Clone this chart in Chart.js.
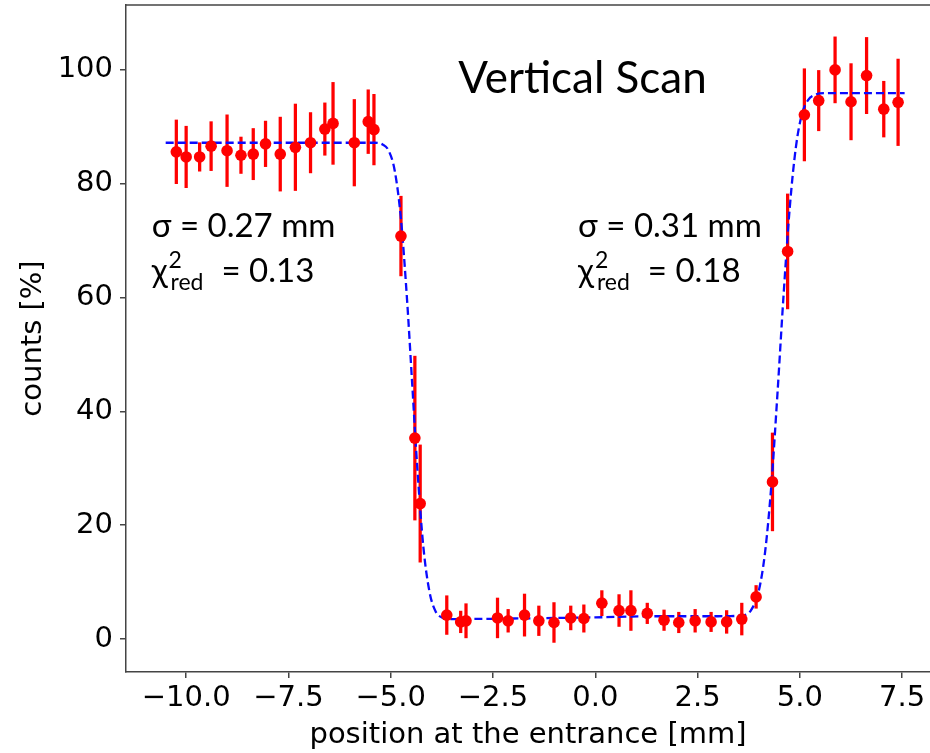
<!DOCTYPE html>
<html>
<head>
<meta charset="utf-8">
<script src="https://cdn.jsdelivr.net/npm/chart.js@4.4.1/dist/chart.umd.min.js"></script>
<style>
    html, body { margin: 0; padding: 0; background: #ffffff; }
</style>
</head>
<body>
<canvas id="chart" width="930" height="753"></canvas>
<script>
// measured points (position in mm, counts in %, error in %)
var posX = [-10.24, -10.0, -9.67, -9.39, -9.0, -8.66, -8.36, -8.06, -7.70, -7.33, -6.96, -6.61, -6.41, -5.89, -5.55, -5.41,
    -4.75, -4.41, -4.28,
    -3.63, -3.29, -3.16, -2.39, -2.13, -1.73, -1.38, -1.01, -0.60, -0.28, 0.16, 0.58, 0.87, 1.27, 1.68, 2.04, 2.44, 2.83, 3.21, 3.58, 3.93,
    4.33, 4.70,
    5.11, 5.46, 5.86, 6.25, 6.63, 7.05, 7.40]
var counts = [85.6, 84.7, 84.7, 86.6, 85.8, 85.0, 85.2, 87.0, 85.2, 86.4, 87.2, 89.6, 90.6, 87.2, 90.9, 89.5,
    70.8, 35.3, 23.8,
    4.2, 3.0, 3.2, 3.7, 3.2, 4.2, 3.2, 2.9, 3.7, 3.6, 6.3, 5.0, 5.0, 4.5, 3.3, 2.9, 3.2, 3.0, 3.0, 3.5, 7.4,
    27.6, 68.1,
    92.1, 94.6, 100.0, 94.4, 99.0, 93.1, 94.3]
var countErr = [5.6, 5.4, 2.5, 4.3, 6.3, 3.2, 4.5, 4.0, 6.5, 7.6, 5.3, 4.6, 7.2, 7.6, 5.6, 6.2,
    7.0, 14.4, 10.3,
    3.4, 1.9, 3.0, 3.5, 2.0, 3.7, 2.6, 3.5, 2.1, 2.4, 2.2, 2.8, 3.5, 1.8, 1.8, 1.8, 2.0, 1.7, 2.0, 2.8, 2.0,
    8.6, 10.1,
    8.1, 5.3, 5.8, 6.7, 6.7, 4.9, 7.6]

// fitted curve
var fitX = [-10.5, -5.4, -5.2, -5.05, -4.9, -4.75, -4.6, -4.48, -4.35, -4.2, -4.05, -3.9, -3.75, -3.5, -2.0, 0.0, 1.5, 3.0, 3.6, 3.8,
    4.0, 4.15, 4.3, 4.45, 4.6, 4.75, 4.9, 5.05, 5.2, 5.4, 5.6, 7.56]
var fitY = [87.2, 87.2, 86.9, 85.8, 82.2, 73.8, 59.5, 45.4, 30.0, 16.0, 8.2, 4.8, 3.8, 3.5, 3.6, 3.8, 4.0, 4.0, 4.15, 5.0,
    8.6, 15.3, 26.8, 42.9, 60.3, 75.6, 86.3, 92.2, 94.7, 95.7, 95.9, 95.9]

var xTicks = [-10.0, -7.5, -5.0, -2.5, 0.0, 2.5, 5.0, 7.5]
var yTicks = [0, 20, 40, 60, 80, 100]

var titleText = "Vertical Scan"
var sigmaLabels = ["0.27", "0.31"]
var chiLabels = ["0.13", "0.18"]

var points = []
var bars = []
var fit = []

for (var i = 0; i < posX.length; i++) {
    points.push({ x: posX[i], y: counts[i] })
    bars.push({ x: posX[i], y: [counts[i] - countErr[i], counts[i] + countErr[i]] })
}
for (var j = 0; j < fitX.length; j++) {
    fit.push({ x: fitX[j], y: fitY[j] })
}

var axisFont = { family: "DejaVu Sans", size: 29 }
var noteFamily = "Lato, 'Open Sans', sans-serif"

function drawChi(ctx, x, y, size, value) {
    ctx.font = size + "px " + noteFamily
    ctx.fillText("\u03c7", x, y)
    var w = ctx.measureText("\u03c7").width
    var small = Math.round(size * 0.7)
    ctx.font = small + "px " + noteFamily
    ctx.fillText("2", x + w + 1, y - size * 0.42)
    ctx.fillText("red", x + w + 3, y + size * 0.26)
    var ws = ctx.measureText("red").width
    ctx.font = size + "px " + noteFamily
    ctx.fillText("= " + value, x + w + ws + 21, y)
}

var notesPlugin = {
    id: "notes",
    afterDraw: function (chart) {
        var ctx = chart.ctx
        var xs = chart.scales.x
        var ys = chart.scales.y
        var area = chart.chartArea

        ctx.save()
        // top spine
        ctx.strokeStyle = "#444444"
        ctx.lineWidth = 1.5
        ctx.beginPath()
        ctx.moveTo(area.left, area.top)
        ctx.lineTo(area.right, area.top)
        ctx.stroke()

        ctx.fillStyle = "#000000"
        ctx.textBaseline = "alphabetic"
        ctx.textAlign = "left"

        ctx.font = "44px " + noteFamily
        ctx.fillText(titleText, xs.getPixelForValue(-3.35), ys.getPixelForValue(96.0))

        var lefts = [-10.84, -0.42]
        for (var k = 0; k < 2; k++) {
            var px = xs.getPixelForValue(lefts[k])
            ctx.font = "33px " + noteFamily
            ctx.fillText("\u03c3 = " + sigmaLabels[k] + " mm", px, ys.getPixelForValue(70.7))
            drawChi(ctx, px, ys.getPixelForValue(62.8), 33, chiLabels[k])
        }
        ctx.restore()
    }
}

var ctx = document.getElementById("chart").getContext("2d")
var chart = new Chart(ctx, {
    type: "scatter",
    data: {
        datasets: [{
            type: "scatter",
            data: points,
            backgroundColor: "#ff0000",
            borderColor: "#ff0000",
            borderWidth: 0,
            pointRadius: 5.8,
            order: 0
        }, {
            type: "line",
            data: fit,
            borderColor: "#0a0aff",
            borderWidth: 2.3,
            borderDash: [8, 4],
            pointRadius: 0,
            fill: false,
            cubicInterpolationMode: "monotone",
            order: 1
        }, {
            type: "bar",
            data: bars,
            backgroundColor: "#ff0000",
            barThickness: 2.6,
            grouped: false,
            order: 2
        }]
    },
    options: {
        responsive: false,
        animation: false,
        devicePixelRatio: 1,
        layout: { autoPadding: false, padding: { left: 0, top: 5, right: 0, bottom: 0 } },
        plugins: {
            legend: { display: false },
            tooltip: { enabled: false }
        },
        scales: {
            x: {
                type: "linear",
                offset: false,
                min: -11.47,
                max: 8.18,
                afterBuildTicks: function (scale) {
                    scale.ticks = xTicks.map(function (v) { return { value: v } })
                },
                afterFit: function (scale) {
                    scale.height = 81
                    scale.paddingLeft = 0
                    scale.paddingRight = 0
                },
                ticks: {
                    font: axisFont,
                    color: "#000000",
                    padding: 3,
                    maxRotation: 0,
                    autoSkip: false,
                    callback: function (v) { return (v < 0 ? "\u2212" : "") + Math.abs(v).toFixed(1) }
                },
                grid: { offset: false, drawOnChartArea: false, drawTicks: true, tickLength: 6, color: "#444444", lineWidth: 1.5 },
                border: { display: true, color: "#444444", width: 1.5 },
                title: {
                    display: true,
                    text: "position at the entrance [mm]",
                    font: axisFont,
                    color: "#000000",
                    padding: { top: 0, bottom: 0 }
                }
            },
            y: {
                type: "linear",
                min: -5.8,
                max: 111.4,
                afterBuildTicks: function (scale) {
                    scale.ticks = yTicks.map(function (v) { return { value: v } })
                },
                afterFit: function (scale) {
                    scale.width = 126
                    scale.paddingTop = 0
                    scale.paddingBottom = 0
                },
                ticks: {
                    font: axisFont,
                    color: "#000000",
                    padding: 7,
                    callback: function (v) { return String(v) }
                },
                grid: { drawOnChartArea: false, drawTicks: true, tickLength: 6, color: "#444444", lineWidth: 1.5 },
                border: { display: true, color: "#444444", width: 1.5 },
                title: {
                    display: true,
                    text: "counts [%]",
                    font: axisFont,
                    color: "#000000",
                    padding: { top: 16, bottom: 0 }
                }
            }
        }
    },
    plugins: [notesPlugin]
})
</script>
</body>
</html>
